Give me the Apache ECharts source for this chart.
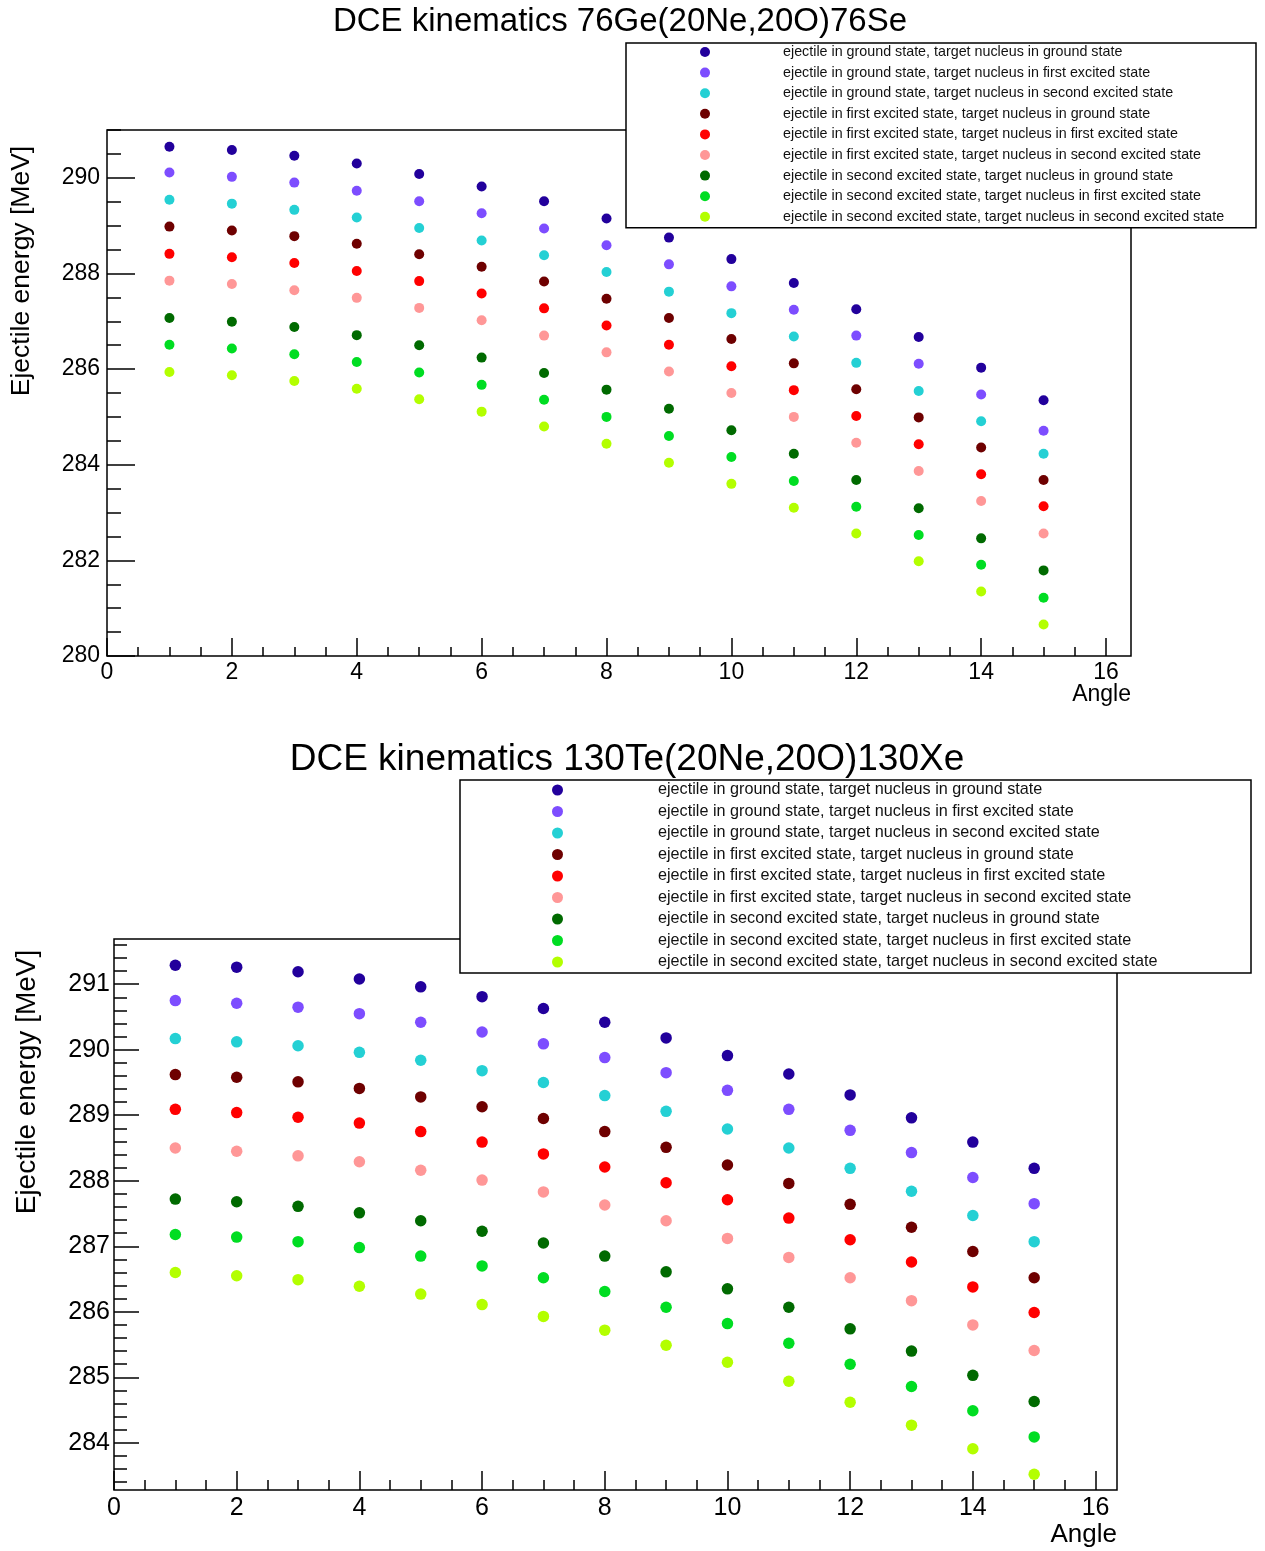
<!DOCTYPE html>
<html>
<head>
<meta charset="utf-8">
<script src="https://cdn.jsdelivr.net/npm/echarts@6/dist/echarts.min.js"></script>
<style>
  body { margin: 0; background: #fff; }
  #chart { width: 1265px; height: 1551px; }
</style>
</head>
<body>
<div id="chart"></div>
<script>
// angles (x values) shared by both plots
const angles = [1, 2, 3, 4, 5, 6, 7, 8, 9, 10, 11, 12, 13, 14, 15];

const stateNames = [
  'ejectile in ground state, target nucleus in ground state',
  'ejectile in ground state, target nucleus in first excited state',
  'ejectile in ground state, target nucleus in second excited state',
  'ejectile in first excited state, target nucleus in ground state',
  'ejectile in first excited state, target nucleus in first excited state',
  'ejectile in first excited state, target nucleus in second excited state',
  'ejectile in second excited state, target nucleus in ground state',
  'ejectile in second excited state, target nucleus in first excited state',
  'ejectile in second excited state, target nucleus in second excited state'
];
const stateColors = ['#22009c', '#7d4dff', '#24d0d4', '#6e0000', '#ff0000', '#ff9797', '#006a00', '#00dd22', '#b3ff00'];

// 76Ge(20Ne,20O)76Se  ejectile energy [MeV]
const geGG = [290.65, 290.58, 290.46, 290.30, 290.08, 289.82, 289.51, 289.15, 288.75, 288.30, 287.80, 287.25, 286.67, 286.03, 285.35];
const geG1 = [290.11, 290.02, 289.90, 289.73, 289.51, 289.26, 288.94, 288.59, 288.19, 287.73, 287.24, 286.70, 286.11, 285.47, 284.71];
const geG2 = [289.54, 289.46, 289.33, 289.17, 288.95, 288.69, 288.38, 288.03, 287.62, 287.17, 286.68, 286.13, 285.54, 284.91, 284.23];
const ge1G = [288.98, 288.90, 288.78, 288.62, 288.40, 288.14, 287.83, 287.47, 287.07, 286.63, 286.12, 285.58, 284.99, 284.36, 283.68];
const ge11 = [288.41, 288.34, 288.22, 288.05, 287.84, 287.58, 287.27, 286.91, 286.51, 286.06, 285.56, 285.02, 284.43, 283.80, 283.13];
const ge12 = [287.85, 287.78, 287.65, 287.49, 287.28, 287.02, 286.70, 286.35, 285.95, 285.50, 285.00, 284.46, 283.87, 283.24, 282.56];
const ge2G = [287.07, 286.99, 286.88, 286.71, 286.50, 286.24, 285.92, 285.57, 285.17, 284.72, 284.23, 283.68, 283.09, 282.46, 281.79];
const ge21 = [286.51, 286.43, 286.31, 286.15, 285.93, 285.67, 285.36, 285.00, 284.60, 284.16, 283.66, 283.12, 282.53, 281.91, 281.22];
const ge22 = [285.94, 285.87, 285.75, 285.59, 285.37, 285.11, 284.80, 284.44, 284.04, 283.60, 283.10, 282.56, 281.98, 281.35, 280.66];

// 130Te(20Ne,20O)130Xe  ejectile energy [MeV]
const teGG = [291.29, 291.26, 291.19, 291.08, 290.96, 290.81, 290.63, 290.42, 290.18, 289.91, 289.63, 289.31, 288.96, 288.59, 288.19];
const teG1 = [290.75, 290.71, 290.65, 290.55, 290.42, 290.27, 290.09, 289.88, 289.65, 289.38, 289.09, 288.77, 288.43, 288.05, 287.65];
const teG2 = [290.17, 290.12, 290.06, 289.96, 289.84, 289.68, 289.50, 289.30, 289.06, 288.79, 288.50, 288.19, 287.84, 287.47, 287.07];
const te1G = [289.62, 289.58, 289.51, 289.41, 289.28, 289.13, 288.95, 288.75, 288.51, 288.24, 287.96, 287.64, 287.29, 286.92, 286.52];
const te11 = [289.09, 289.04, 288.97, 288.88, 288.75, 288.59, 288.41, 288.21, 287.97, 287.71, 287.43, 287.10, 286.76, 286.38, 285.99];
const te12 = [288.50, 288.45, 288.38, 288.29, 288.16, 288.01, 287.83, 287.63, 287.39, 287.12, 286.83, 286.52, 286.17, 285.80, 285.41];
const te2G = [287.72, 287.68, 287.61, 287.51, 287.39, 287.23, 287.05, 286.85, 286.61, 286.35, 286.07, 285.74, 285.40, 285.03, 284.63];
const te21 = [287.18, 287.14, 287.07, 286.98, 286.85, 286.70, 286.52, 286.31, 286.07, 285.82, 285.52, 285.20, 284.86, 284.49, 284.09];
const te22 = [286.60, 286.55, 286.49, 286.39, 286.27, 286.11, 285.93, 285.72, 285.49, 285.23, 284.94, 284.62, 284.27, 283.91, 283.52];

// tick labels
const xTicks = [0, 2, 4, 6, 8, 10, 12, 14, 16];
const geYTicks = [280, 282, 284, 286, 288, 290];
const teYTicks = [284, 285, 286, 287, 288, 289, 290, 291];

const geSeries = [geGG, geG1, geG2, ge1G, ge11, ge12, ge2G, ge21, ge22];
const teSeries = [teGG, teG1, teG2, te1G, te11, te12, te2G, te21, te22];

const FONT = '"Liberation Sans", Arial, Helvetica, sans-serif';

function steps(from, to, step) {
  const out = [];
  for (let v = from; v <= to + 1e-9; v += step) out.push(Math.round(v * 1000) / 1000);
  return out;
}

function axis(dim, gridIndex, min, max, ticks, tickLen, labels, fontSize, margin) {
  return {
    type: 'value',
    gridIndex: gridIndex,
    min: min,
    max: max,
    position: dim === 'x' ? 'bottom' : 'left',
    axisLine: { show: false },
    splitLine: { show: false },
    axisTick: {
      show: true,
      inside: true,
      length: tickLen,
      customValues: ticks,
      lineStyle: { color: '#000', width: 1.5 }
    },
    axisLabel: labels ? {
      show: true,
      customValues: ticks,
      fontSize: fontSize,
      fontFamily: FONT,
      color: '#000',
      margin: margin
    } : { show: false }
  };
}

const xAxes = [
  axis('x', 0, 0, 16.4, xTicks, 18, true, 23, 5),
  axis('x', 0, 0, 16.4, steps(0.5, 16, 0.5), 9, false),
  axis('x', 1, 0, 16.35, xTicks, 19, true, 25, 6),
  axis('x', 1, 0, 16.35, steps(0.5, 16, 0.5), 10, false)
];
const yAxes = [
  axis('y', 0, 280, 291, geYTicks, 28, true, 23, 7),
  axis('y', 0, 280, 291, steps(280.5, 291, 0.5), 14, false),
  axis('y', 1, 283.28, 291.69, teYTicks, 25, true, 25, 4),
  axis('y', 1, 283.28, 291.69, steps(283.4, 291.6, 0.2), 13, false)
];

const series = [];
geSeries.forEach(function (vals, i) {
  series.push({
    name: stateNames[i],
    type: 'scatter',
    xAxisIndex: 0,
    yAxisIndex: 0,
    symbolSize: 10,
    itemStyle: { color: stateColors[i], opacity: 1 },
    data: angles.map(function (a, j) { return [a, vals[j]]; })
  });
});
teSeries.forEach(function (vals, i) {
  series.push({
    name: stateNames[i],
    type: 'scatter',
    xAxisIndex: 2,
    yAxisIndex: 2,
    symbolSize: 11.5,
    itemStyle: { color: stateColors[i], opacity: 1 },
    data: angles.map(function (a, j) { return [a, vals[j]]; })
  });
});

function legend(left, top, pad, icon, fontSize, lineHeight, gap, gapW, textW) {
  return {
    orient: 'vertical',
    left: left,
    top: top,
    padding: pad,
    itemGap: gap,
    itemWidth: icon,
    itemHeight: icon,
    icon: 'circle',
    selectedMode: false,
    backgroundColor: '#fff',
    borderColor: '#000',
    borderWidth: 1.5,
    borderRadius: 0,
    data: stateNames,
    formatter: function (name) { return '{gap| }{t|' + name + '}'; },
    textStyle: {
      color: '#111',
      fontFamily: FONT,
      fontSize: fontSize,
      lineHeight: lineHeight,
      rich: {
        gap: { width: gapW },
        t: { width: textW, fontSize: fontSize, fontFamily: FONT, lineHeight: lineHeight, color: '#111' }
      }
    }
  };
}

function text(x, y, str, size, align, rotation) {
  return {
    type: 'text',
    x: x,
    y: y,
    rotation: rotation || 0,
    z: 10,
    style: {
      text: str,
      fontSize: size,
      fontFamily: FONT,
      fill: '#000',
      align: align,
      verticalAlign: 'middle'
    }
  };
}

const chart = echarts.init(document.getElementById('chart'));
chart.setOption({
  animation: false,
  backgroundColor: '#fff',
  grid: [
    { left: 107, top: 130, width: 1024, height: 526, show: true, borderColor: '#000', borderWidth: 1.5, backgroundColor: 'transparent' },
    { left: 114, top: 939, width: 1003, height: 551, show: true, borderColor: '#000', borderWidth: 1.5, backgroundColor: 'transparent' }
  ],
  xAxis: xAxes,
  yAxis: yAxes,
  legend: [
    legend(626, 43, [1.5, 0, 3.5, 74], 10, 14.3, 15, 5.6, 68, 473),
    legend(460, 780, [1.5, 0, 2.5, 92], 11, 16.2, 17, 4.5, 90, 593)
  ],
  graphic: [
    text(620, 22, 'DCE kinematics 76Ge(20Ne,20O)76Se', 33, 'center'),
    text(22, 271, 'Ejectile energy [MeV]', 26.5, 'center', Math.PI / 2),
    text(1131, 695, 'Angle', 23, 'right'),
    text(627, 760, 'DCE kinematics 130Te(20Ne,20O)130Xe', 37, 'center'),
    text(27, 1082, 'Ejectile energy [MeV]', 28, 'center', Math.PI / 2),
    text(1117, 1535, 'Angle', 26, 'right')
  ],
  series: series
});
</script>
</body>
</html>
